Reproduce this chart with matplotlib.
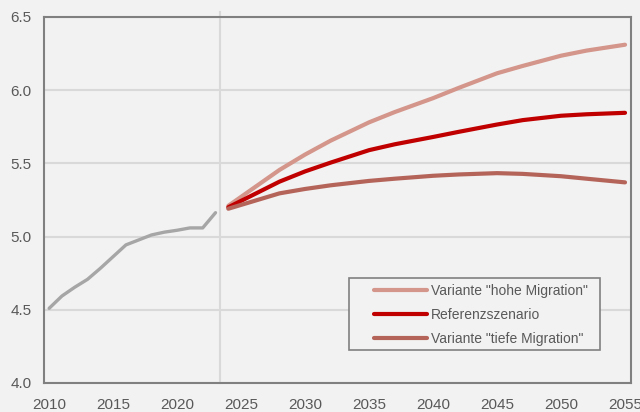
import numpy as np
import matplotlib.pyplot as plt
from matplotlib.patches import Rectangle

# historische Werte (Mio.)
jahre_hist = [2010, 2011, 2012, 2013, 2014, 2015, 2016, 2017, 2018, 2019, 2020, 2021, 2022, 2023]
werte_hist = [4.51, 4.594, 4.654, 4.708, 4.783, 4.863, 4.943, 4.977, 5.011, 5.03, 5.043, 5.059, 5.059, 5.163]

# Szenarien
jahre_proj = [2024, 2028, 2030, 2032, 2035, 2037, 2040, 2042, 2045, 2047, 2050, 2052, 2055]
hohe_migration = [5.21, 5.455, 5.56, 5.655, 5.78, 5.85, 5.945, 6.015, 6.115, 6.165, 6.235, 6.27, 6.31]
referenz = [5.20, 5.375, 5.445, 5.505, 5.59, 5.63, 5.68, 5.715, 5.765, 5.795, 5.825, 5.835, 5.845]
tiefe_migration = [5.19, 5.295, 5.325, 5.35, 5.38, 5.395, 5.415, 5.424, 5.433, 5.428, 5.412, 5.395, 5.37]

bg = '#f2f2f2'
plt.rcParams['font.family'] = ['Liberation Sans', 'DejaVu Sans']

fig = plt.figure(figsize=(6.4, 4.12), dpi=100, facecolor=bg)
ax = fig.add_axes([0.069, 0.0704, 0.917, 0.8886], facecolor=bg)

ax.set_xlim(2009.61, 2055.47)
ax.set_ylim(4.0, 6.5)
ax.set_yticks([4.0, 4.5, 5.0, 5.5, 6.0, 6.5])
ax.set_yticklabels(['4.0', '4.5', '5.0', '5.5', '6.0', '6.5'])
ax.set_xticks(range(2010, 2056, 5))
ax.grid(axis='y', color='#d9d9d9', lw=1.5)
ax.set_axisbelow(True)
ax.tick_params(length=0, labelsize=11, labelcolor='#595959')
ax.tick_params(axis='x', pad=11)
ax.tick_params(axis='y', pad=9)
for s in ax.spines.values():
    s.set_color('#808080')
    s.set_linewidth(1.5)

# Trennlinie Beobachtung / Prognose
ax.axvline(2023.36, ymin=0, ymax=1.012, color='#d9d9d9', lw=1.5, clip_on=False, zorder=1)

ax.plot(jahre_hist, werte_hist, color='#a6a6a6', lw=2.4, solid_capstyle='round', solid_joinstyle='round')
ax.plot(jahre_proj, hohe_migration, color='#d4958a', lw=3, solid_capstyle='round',
        solid_joinstyle='round', label='Variante "hohe Migration"')
ax.plot(jahre_proj, referenz, color='#c00000', lw=3, solid_capstyle='round',
        solid_joinstyle='round', label='Referenzszenario')
ax.plot(jahre_proj, tiefe_migration, color='#b5645a', lw=3, solid_capstyle='round',
        solid_joinstyle='round', label='Variante "tiefe Migration"')

# Legendenrahmen separat (mehr Innenabstand links/rechts)
ax.add_patch(Rectangle((0.5196, 0.090), 0.4275, 0.197, transform=ax.transAxes,
                       facecolor=bg, edgecolor='#808080', lw=1.2, zorder=4))
leg = ax.legend(loc='upper left', bbox_to_anchor=(0.562, 0.27), borderaxespad=0,
                fontsize=10, frameon=False, handlelength=3.8, labelspacing=0.7,
                borderpad=0, handletextpad=0.3)
leg.set_zorder(5)
for t in leg.get_texts():
    t.set_color('#595959')

fig.savefig('out.png', dpi=100, facecolor=bg)
